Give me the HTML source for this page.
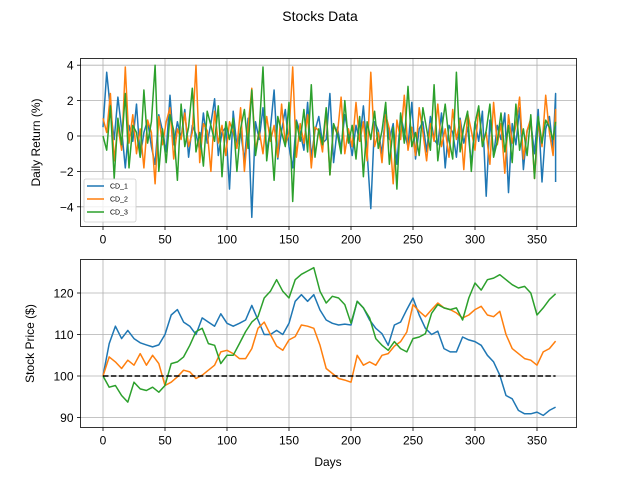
<!DOCTYPE html>
<html><head><meta charset="utf-8"><style>
body{margin:0;background:#fff;}
svg{display:block;font-family:"Liberation Sans","DejaVu Sans",sans-serif;}
</style></head><body>
<svg id="chart" width="640" height="480" viewBox="0 0 640 480">
<text x="320" y="21" text-anchor="middle" font-size="14" fill="#000">Stocks Data</text>
<g id="top"></g>
<g id="bot"></g>
</svg>
<script>
const seriesNames = ["CD_1","CD_2","CD_3"];
const colors = ["#1f77b4","#ff7f0e","#2ca02c"];
const xTicks = [0,50,100,150,200,250,300,350];
const retTicks = [-4,-2,0,2,4];
const priceTicks = [90,100,110,120];
const retStep = 3;
const ret1 = [0.5,3.6,1.5,-0.2,2.2,0.4,-1.8,0.6,-0.3,1.8,-1.2,0.2,0.9,-0.6,-1.6,1.2,0.3,-0.9,2.3,-0.5,0.8,-0.1,1.5,-1.2,0.6,0.1,-0.8,1.3,-0.4,0.7,2.1,-1.1,0.2,0.5,-3.0,1.4,-0.6,0.3,-1.4,1.0,-4.6,0.8,-0.2,1.6,-0.9,0.4,2.6,-1.3,0.3,1.5,-0.6,-1.8,0.9,0.2,-0.8,1.9,-1.2,0.3,1.1,-0.4,-0.2,2.4,-1.5,0.5,-0.7,1.2,0.1,-1.1,0.6,-0.3,1.7,-0.9,-4.1,0.8,0.3,-1.0,1.4,-0.2,0.7,-1.6,1.2,0.2,-0.6,1.9,-1.3,0.4,0.8,-0.9,1.1,-0.2,-0.5,1.3,-1.8,0.6,0.2,-1.2,1.0,-0.4,0.5,-1.6,0.8,-0.3,1.4,-3.4,0.9,-1.1,0.6,-0.2,1.3,-3.2,0.7,-0.5,1.6,-1.9,0.3,0.8,-1.0,1.5,-2.6,0.4,1.1,-0.7,2.4,-2.6];
const ret2 = [1.0,0.2,2.4,-1.4,0.6,-0.8,3.9,-0.4,1.2,-1.0,0.4,-1.8,0.9,0.2,-2.7,1.1,-0.5,0.8,1.6,-1.3,0.4,-0.2,1.3,-0.6,0.2,4.0,-1.5,0.7,0.3,-2.0,1.4,-0.4,0.6,-1.1,0.8,0.2,-0.7,1.6,-2.0,0.5,2.7,-0.8,0.3,-1.0,1.1,-0.3,0.6,-1.2,1.8,-0.5,0.2,3.9,-1.2,0.7,-0.4,1.2,-1.8,0.5,0.3,-0.9,1.4,-2.2,0.6,0.1,2.2,-1.0,0.4,-0.6,1.9,-0.3,0.8,-1.4,3.6,-0.6,0.2,-1.5,1.2,0.4,-2.7,0.9,-0.2,2.3,-0.8,0.5,-1.1,1.6,0.2,-1.4,0.7,-0.3,1.8,-0.6,0.4,-1.2,1.5,-0.2,0.9,-1.9,1.3,0.3,-0.8,1.6,-0.4,0.2,-1.6,1.9,-0.5,0.7,-2.1,1.2,-0.4,0.6,2.2,-1.3,0.3,1.0,-2.4,0.8,-0.6,2.3,0.2,-1.1,1.5,0.6];
const ret3 = [0.0,-0.8,1.7,-2.4,1.0,-0.5,2.4,-1.8,0.6,0.2,-1.2,2.6,-0.4,0.8,4.0,-2.0,0.4,-1.5,1.2,0.3,-2.5,1.8,-0.6,0.5,2.7,-0.9,0.2,-1.7,1.4,0.6,-0.3,1.7,-2.3,0.8,-0.2,1.0,-2.0,0.4,1.5,-0.7,2.6,-1.1,0.3,3.9,-1.4,0.5,-2.5,1.1,0.2,-0.6,1.9,-3.7,0.8,-0.3,1.5,-0.9,2.9,-1.2,0.4,-0.5,1.6,-2.2,0.7,0.1,-1.0,2.0,-0.4,0.6,-1.3,1.1,-2.3,0.8,-0.2,1.4,-0.7,0.3,1.9,-1.6,0.5,-3.0,1.3,-0.4,2.8,-0.6,0.2,-1.1,1.6,0.4,-0.8,2.9,-1.4,0.3,1.8,-0.2,-1.3,3.6,-0.9,0.5,1.4,-2.0,0.7,1.7,-0.6,0.3,1.8,-1.2,-0.3,1.3,-0.9,0.6,-1.5,1.8,-0.8,0.4,-1.1,1.2,-2.4,1.1,-0.4,0.9,0.5,-0.2,0.8];
const priceStep = 5;
const price1 = [100,107.8,112,109,111,109,108,107.5,107,107.5,110,114.7,116,113,112,110,114,113,112,115,112.7,112,112.7,113.5,117,113.5,110,110,111,110,112.7,118,119.6,118,119.6,115.9,113.5,112.7,112.3,112.5,112.3,118,116.4,113.5,111.5,110.2,107.4,112.3,113,116,118.8,114.7,111.5,110,110.8,106.6,105.8,105.8,109.4,108.7,108.3,107.4,105,103.4,100.2,95.3,94.5,91.7,90.9,90.9,91.3,90.5,91.7,92.5];
const price2 = [100,104.6,103.4,101.8,103.8,102.6,105.4,102.6,105,103,97.7,98.5,99.8,101.4,101,99.4,100.2,101.4,102.6,105.8,106.2,105.4,104.2,104.2,106.6,111.5,113,110,107.2,106.2,108.7,109.5,112.3,112,111.5,107.4,101.8,100.6,99.4,99,98.5,105,102.6,103.4,102.6,105,105.4,107.2,108.3,110.6,117.2,115.6,114.3,116,117.6,116.4,116,115.2,114,114.7,116,116.8,114.7,114.3,115.6,110,106.6,105.4,104.2,103.8,102.6,105.8,106.6,108.4];
const price3 = [100,97.3,97.7,95.3,93.7,98.5,96.9,96.5,97.3,96.1,97.7,103,103.4,104.6,107.4,110.7,111.5,107.8,107.4,103,105,105,107.8,110.7,113,114.3,118.8,120.4,123.2,120.4,118.8,123.2,124.5,125.3,126.1,120.4,117.6,119.2,118.8,117.2,112.7,118,116.4,114,109,107.4,106.2,108.3,106.6,105.8,109,109.4,110.2,115.1,117.2,116.4,116,116.4,113.5,118.8,122.4,120.7,123.2,123.6,124.4,123.2,122,121.2,121.6,120,114.7,116.4,118.4,119.8];
const baseline = [100,100];
const baselineDays = [0,365];

const NS="http://www.w3.org/2000/svg";
function mk(tag,attrs,parent){const e=document.createElementNS(NS,tag);for(const k in attrs)e.setAttribute(k,attrs[k]);parent.appendChild(e);return e;}
const L=80.5,R=576.5;
function xS(d){return 103+1.24*d;}

function panel(g,top,bot,yS,yTicks,ylabel,ylabelX,prefix){
  const gridG=mk('g',{},g);
  
  
  xTicks.forEach(t=>{const x=xS(t);
    const l=mk('line',{x1:x,x2:x,y1:top,y2:bot,stroke:'#b0b0b0','stroke-width':0.8},gridG);
    
    
    const tk=mk('line',{x1:x,x2:x,y1:bot,y2:bot+3.5,stroke:'#000','stroke-width':0.8},g);
    
    
    const tx=mk('text',{x:x,y:bot+17,'text-anchor':'middle','font-size':12,fill:'#000'},g);
    tx.textContent=t;
    
    
  });
  yTicks.forEach(t=>{const y=yS(t);
    const l=mk('line',{x1:L,x2:R,y1:y,y2:y,stroke:'#b0b0b0','stroke-width':0.8},gridG);
    
    
    const tk=mk('line',{x1:L-3.5,x2:L,y1:y,y2:y,stroke:'#000','stroke-width':0.8},g);
    
    
    const tx=mk('text',{x:L-7,y:y+4.5,'text-anchor':'end','font-size':12,fill:'#000'},g);
    tx.textContent=(t<0?'\u2212'+(-t):t);
    
    
  });
  const yl=mk('text',{x:ylabelX,y:(top+bot)/2,'text-anchor':'middle','font-size':12,fill:'#000',transform:`rotate(-90 ${ylabelX} ${(top+bot)/2})`},g);
  yl.textContent=ylabel;
  
  
}
function frame(g,top,bot,prefix){
  const r=mk('rect',{x:L,y:top,width:R-L,height:bot-top,fill:'none',stroke:'#000','stroke-width':0.8},g);
  
  
}
function line(g,vals,step,yS,color,name,clip){
  const pts=vals.map((v,i)=>xS(Math.min(i*step,365)).toFixed(1)+','+yS(v).toFixed(1)).join(' ');
  const p=mk('polyline',{points:pts,fill:'none',stroke:color,'stroke-width':1.5,'stroke-linejoin':'round'},g);
  
  
  return p;
}

// top panel
const topG=document.getElementById('top');
const T1=58.5,B1=226.5;
const yR=v=>136-v*17.7;
panel(topG,T1,B1,yR,retTicks,'Daily Return (%)',40,'returns');
[ret1,ret2,ret3].forEach((s,i)=>line(topG,s,retStep,yR,colors[i],'returns-line-'+seriesNames[i].toLowerCase().replace('_','')));
frame(topG,T1,B1,'returns');
const lg=mk('g',{},topG);


mk('rect',{x:84,y:179,width:52,height:43,rx:2,fill:'#fff','fill-opacity':0.8,stroke:'#ccc','stroke-width':0.8},lg);
seriesNames.forEach((n,i)=>{const y=186+i*13;
  const e=mk('g',{},lg);
  
  
  mk('line',{x1:87,x2:104,y1:y,y2:y,stroke:colors[i],'stroke-width':1.5},e);
  const t=mk('text',{x:110,y:y+2.5,'font-size':7,fill:'#000'},e);t.textContent=n;
});

// bottom panel
const botG=document.getElementById('bot');
const T2=259.5,B2=427.5;
const yP=v=>376-(v-100)*4.15;
panel(botG,T2,B2,yP,priceTicks,'Stock Price ($)',34,'price');
[price1,price2,price3].forEach((s,i)=>line(botG,s,priceStep,yP,colors[i],'price-line-'+seriesNames[i].toLowerCase().replace('_','')));
const bl=mk('line',{x1:xS(baselineDays[0]),x2:xS(baselineDays[1]),y1:yP(baseline[0]),y2:yP(baseline[1]),stroke:'#000','stroke-width':1.5,'stroke-dasharray':'5.5,2.4'},botG);


frame(botG,T2,B2,'price');
const xl=mk('text',{x:328,y:466,'text-anchor':'middle','font-size':12,fill:'#000'},botG);
xl.textContent='Days';


</script>
</body></html>
